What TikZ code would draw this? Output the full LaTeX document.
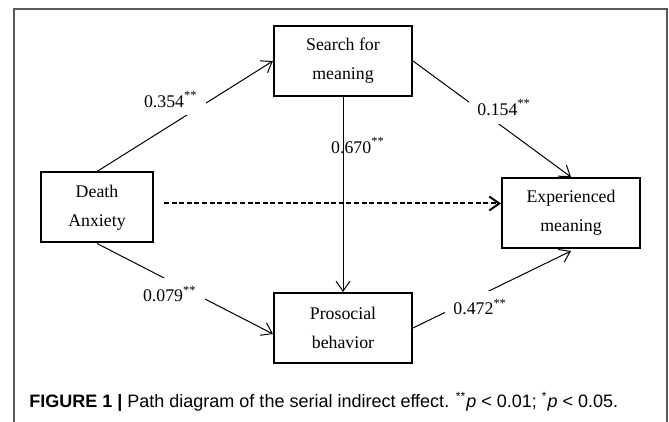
\documentclass[tikz,border=0pt]{standalone}
\usepackage{fontspec}
\setmainfont{Liberation Serif}
\newfontfamily\capfont{Liberation Sans}
\usetikzlibrary{arrows.meta,positioning}

\begin{document}
\begin{tikzpicture}[x=0.5pt,y=-0.5pt,>={Straight Barb[length=5pt,width=7pt]}]
    \tikzstyle{var}=[rectangle,draw=black,line width=1pt,align=center,
    font=\fontsize{8.9}{14.5}\selectfont,inner sep=0pt,minimum width=69pt,
    minimum height=35pt]

    \tikzstyle{coef}=[font=\fontsize{8.9}{11}\selectfont,inner sep=1pt]
    \tikzstyle{gap}=[coef,fill=white,inner sep=4pt]
    \tikzstyle{path}=[->,line width=0.5pt]

    \useasboundingbox (0,0) rectangle (669,422);
    \draw[black!65,line width=0.6pt] (14,422) -- (14,9) -- (667,9) -- (667,422);

    \node[var,minimum width=56pt](death_anx) at (97,207.5){Death \\ Anxiety};
    \node[var](search_mean) at (343,61){Search for \\ meaning};
    \node[var](prosocial)[below=97.5pt of search_mean]{Prosocial \\ behavior};
    \node[var](exp_mean) at (571,213){Experienced \\ meaning};

    \draw[path] (death_anx.north) -- (search_mean.west)
        node[gap,pos=0.5,xshift=-7.1pt,yshift=8.4pt](b_ds){0.354\textsuperscript{**}};
    \draw[path] (search_mean.east) -- (exp_mean.north)
        node[gap,pos=0.5,xshift=6.1pt,yshift=5.75pt](b_se){0.154\textsuperscript{**}};
    \draw[path] (search_mean.south) -- (prosocial.north)
        node[coef,pos=0.25,xshift=7.5pt](b_sp){0.670\textsuperscript{**}};
    \draw[path] (death_anx.south) -- ([yshift=-3pt]prosocial.west)
        node[gap,pos=0.5,xshift=-7.6pt,yshift=-2.6pt](b_dp){0.079\textsuperscript{**}};
    \draw[path] (prosocial.east) -- ([yshift=-1pt]exp_mean.south)
        node[gap,pos=0.5,xshift=-5.9pt,yshift=-8.75pt](b_pe){0.472\textsuperscript{**}};

    \draw[->,line width=1pt,dash pattern=on 2.5pt off 1.3pt]
        ([xshift=5pt,yshift=2pt]death_anx.east) -- ([yshift=4.75pt]exp_mean.west);

    \node[anchor=west,inner sep=0pt,font=\capfont\fontsize{9}{11}\selectfont](caption) at (29,402)
        {\textbf{FIGURE 1 |} Path diagram of the serial indirect effect. \textsuperscript{**}\textit{p} < 0.01; \textsuperscript{*}\textit{p} < 0.05.};
\end{tikzpicture}
\end{document}
